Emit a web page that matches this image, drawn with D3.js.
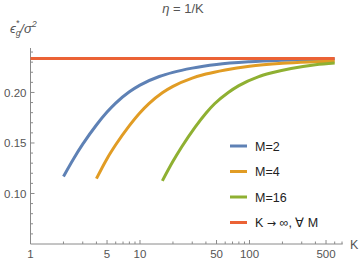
<!DOCTYPE html>
<html lang="en">
<head>
<meta charset="UTF-8">
<title>eta = 1/K</title>
<script src="https://cdn.jsdelivr.net/npm/d3@7"></script>
<style>
  body { margin: 0; background: #fff; }
  svg { display: block; font-family: "Liberation Sans", Arial, sans-serif; }
</style>
</head>
<body>
<div id="chart"></div>
<script>
// values
const kM2 = [2, 2.5, 3, 4, 5, 6, 8, 10, 15, 20, 30, 50, 100, 200, 600];
const errM2 = [0.1168, 0.1352, 0.1488, 0.1678, 0.1806, 0.1895, 0.2007, 0.2073, 0.2158, 0.2199, 0.2241, 0.2277, 0.2304, 0.2319, 0.2331];

const kM4 = [4, 5, 6, 8, 10, 12, 16, 20, 30, 40, 60, 100, 200, 400, 600];
const errM4 = [0.1147, 0.1345, 0.1482, 0.1672, 0.1800, 0.1887, 0.1997, 0.2060, 0.2142, 0.2182, 0.2223, 0.2260, 0.2288, 0.2303, 0.2310];

const kM16 = [16, 20, 24, 32, 40, 48, 64, 80, 120, 160, 240, 400, 600];
const errM16 = [0.1125, 0.1318, 0.1460, 0.1660, 0.1795, 0.1888, 0.2000, 0.2068, 0.2155, 0.2195, 0.2238, 0.2275, 0.2292];

const kInf = [1, 600];
const errInf = [0.2335, 0.2335];

const seriesNames = ["M=2", "M=4", "M=16", "K \u2192 \u221e, \u2200 M"];
const seriesColors = ["#5e81b5", "#e19c24", "#8fb032", "#eb6235"];

const xMajor = [1, 5, 10, 50, 100, 500];
const xMinor = [2, 3, 4, 6, 7, 8, 9, 20, 30, 40, 60, 70, 80, 90, 200, 300, 400, 600, 700];
const yMajor = [0.10, 0.15, 0.20];
const yMinor = [0.06, 0.07, 0.08, 0.09, 0.11, 0.12, 0.13, 0.14, 0.16, 0.17, 0.18, 0.19, 0.21, 0.22, 0.23, 0.24];

const W = 360, H = 263;
const svg = d3.select("#chart").append("svg")
    .attr("width", W)
    .attr("height", H);

const x = d3.scaleLog().domain([1, 710]).range([30.5, 342.7]);
const y = d3.scaleLinear().domain([0.05, 0.244]).range([244, 48]);

const axisColor = "#8a8a8a";
const labelColor = "#555";

// axes lines
svg.append("line")
    .attr("x1", x(1)).attr("x2", x(710))
    .attr("y1", y(0.05)).attr("y2", y(0.05))
    .attr("stroke", axisColor).attr("stroke-width", 1);
svg.append("line")
    .attr("x1", x(1)).attr("x2", x(1))
    .attr("y1", y(0.05)).attr("y2", y(0.244))
    .attr("stroke", axisColor).attr("stroke-width", 1);

// x ticks (pointing inward)
svg.selectAll(".xmaj").data(xMajor).enter().append("line")
    .attr("x1", d => x(d)).attr("x2", d => x(d))
    .attr("y1", y(0.05)).attr("y2", y(0.05) - 4)
    .attr("stroke", axisColor);
svg.selectAll(".xmin").data(xMinor).enter().append("line")
    .attr("x1", d => x(d)).attr("x2", d => x(d))
    .attr("y1", y(0.05)).attr("y2", y(0.05) - 2.5)
    .attr("stroke", axisColor);
svg.selectAll(".xlab").data(xMajor).enter().append("text")
    .attr("x", d => x(d))
    .attr("y", 258)
    .attr("text-anchor", "middle")
    .attr("fill", labelColor)
    .style("font-size", "11.5px")
    .text(d => d);

// y ticks
svg.selectAll(".ymaj").data(yMajor).enter().append("line")
    .attr("x1", x(1)).attr("x2", x(1) + 4)
    .attr("y1", d => y(d)).attr("y2", d => y(d))
    .attr("stroke", axisColor);
svg.selectAll(".ymin").data(yMinor).enter().append("line")
    .attr("x1", x(1)).attr("x2", x(1) + 2.5)
    .attr("y1", d => y(d)).attr("y2", d => y(d))
    .attr("stroke", axisColor);
svg.selectAll(".ylab").data(yMajor).enter().append("text")
    .attr("x", 26.5)
    .attr("y", d => y(d))
    .attr("dy", "0.36em")
    .attr("text-anchor", "end")
    .attr("fill", labelColor)
    .style("font-size", "11.5px")
    .text(d => d3.format(".2f")(d));

// axis labels and title
svg.append("text")
    .attr("x", 350)
    .attr("y", 249)
    .attr("fill", labelColor)
    .style("font-size", "12.5px")
    .text("K");

const yl = svg.append("text")
    .attr("x", 10)
    .attr("y", 33)
    .attr("fill", labelColor)
    .style("font-size", "13px")
    .style("font-style", "italic");
yl.append("tspan").text("\u03f5");
yl.append("tspan").attr("dy", 3).style("font-size", "9px").text("g");
yl.append("tspan").attr("dy", -10).attr("dx", -5).style("font-size", "9px").text("*");
yl.append("tspan").attr("dy", 7).attr("dx", 1).text("/\u03c3");
yl.append("tspan").attr("dy", -6).style("font-size", "9px").text("2");

svg.append("text")
    .attr("x", 183)
    .attr("y", 13)
    .attr("text-anchor", "middle")
    .attr("fill", labelColor)
    .style("font-size", "13px")
    .html("<tspan font-style='italic'>\u03b7</tspan> = 1/K");

// curves
const series = [
    { name: seriesNames[0], color: seriesColors[0], k: kM2, v: errM2 },
    { name: seriesNames[1], color: seriesColors[1], k: kM4, v: errM4 },
    { name: seriesNames[2], color: seriesColors[2], k: kM16, v: errM16 },
    { name: seriesNames[3], color: seriesColors[3], k: kInf, v: errInf }
];

const line = d3.line()
    .x(d => x(d[0]))
    .y(d => y(d[1]))
    .curve(d3.curveMonotoneX);

series.forEach(s => {
    svg.append("path")
        .datum(s.k.map((k, i) => [k, s.v[i]]))
        .attr("fill", "none")
        .attr("stroke", s.color)
        .attr("stroke-width", 3)
        .attr("d", line);
});

// legend
const legend = svg.append("g").attr("transform", "translate(230,146)");
series.forEach((s, i) => {
    const row = legend.append("g").attr("transform", `translate(0,${i * 25.5})`);
    row.append("line")
        .attr("x1", 0).attr("x2", 17)
        .attr("stroke", s.color)
        .attr("stroke-width", 3);
    const t = row.append("text")
        .attr("x", 25)
        .attr("dy", "0.36em")
        .attr("fill", "#222")
        .style("font-size", "12.5px");
    // the arrow glyph is tiny in Liberation Sans, so take it from DejaVu
    s.name.split("\u2192").forEach((part, j) => {
        if (j > 0) t.append("tspan").style("font-family", "DejaVu Sans").style("font-size", "11px").text("\u2192");
        t.append("tspan").text(part);
    });
});
</script>
</body>
</html>
